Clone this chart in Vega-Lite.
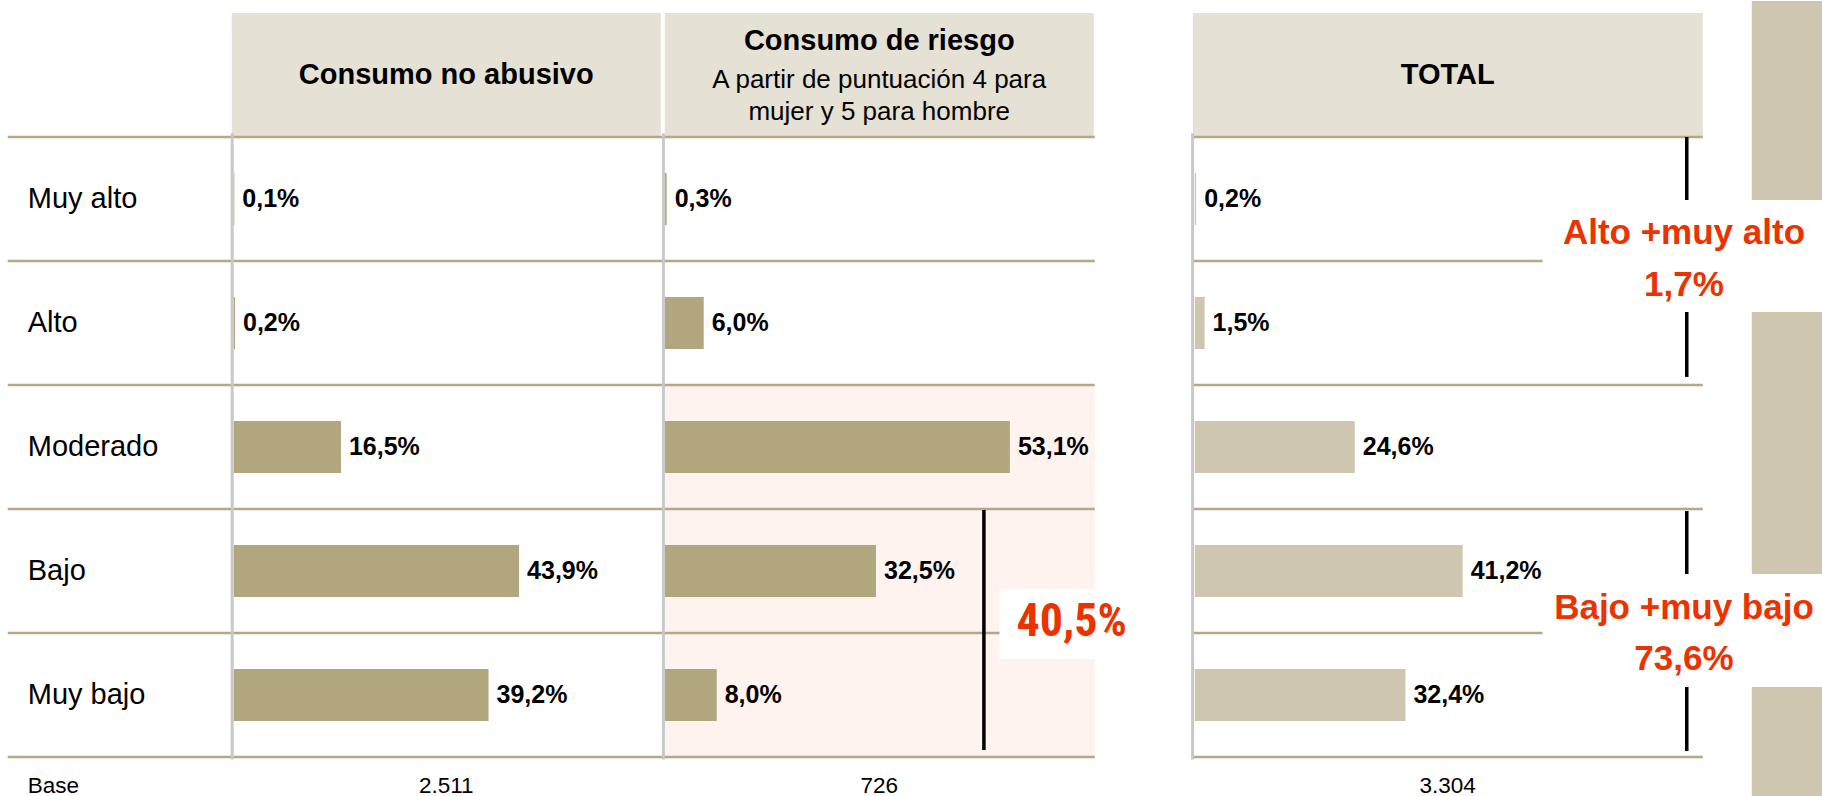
{
"$schema": "https://vega.github.io/schema/vega-lite/v6.json",
"padding": {"left": 5.75, "right": 0, "top": 0, "bottom": 0},
"spacing": 0,
"bounds": "flush",
"config": {
  "view": {"stroke": null},
  "font": "Liberation Sans",
  "text": {"font": "Liberation Sans", "color": "#000000"},
  "locale": {"number": {"decimal": ",", "thousands": ".", "grouping": [3], "currency": ["", " €"]}}
},
"datasets": {
  "datos": [
    {"grupo": "Consumo no abusivo", "nivel": "Muy alto", "pct": 0.001},
    {"grupo": "Consumo no abusivo", "nivel": "Alto", "pct": 0.002},
    {"grupo": "Consumo no abusivo", "nivel": "Moderado", "pct": 0.165},
    {"grupo": "Consumo no abusivo", "nivel": "Bajo", "pct": 0.439},
    {"grupo": "Consumo no abusivo", "nivel": "Muy bajo", "pct": 0.392},
    {"grupo": "Consumo de riesgo", "nivel": "Muy alto", "pct": 0.003},
    {"grupo": "Consumo de riesgo", "nivel": "Alto", "pct": 0.060},
    {"grupo": "Consumo de riesgo", "nivel": "Moderado", "pct": 0.531},
    {"grupo": "Consumo de riesgo", "nivel": "Bajo", "pct": 0.325},
    {"grupo": "Consumo de riesgo", "nivel": "Muy bajo", "pct": 0.080},
    {"grupo": "TOTAL", "nivel": "Muy alto", "pct": 0.002},
    {"grupo": "TOTAL", "nivel": "Alto", "pct": 0.015},
    {"grupo": "TOTAL", "nivel": "Moderado", "pct": 0.246},
    {"grupo": "TOTAL", "nivel": "Bajo", "pct": 0.412},
    {"grupo": "TOTAL", "nivel": "Muy bajo", "pct": 0.324}
  ],
  "encabezados": [
    {"grupo": "Consumo no abusivo", "titulo": "Consumo no abusivo", "sub": "", "base": 2511},
    {"grupo": "Consumo de riesgo", "titulo": "Consumo de riesgo", "sub": ["A partir de puntuación 4 para", "mujer y 5 para hombre"], "base": 726},
    {"grupo": "TOTAL", "titulo": "TOTAL", "sub": "", "base": 3304}
  ],
  "resumen": [
    {"grupo": "Consumo de riesgo", "etiqueta": "Bajo +muy bajo", "pct": 0.405},
    {"grupo": "TOTAL", "etiqueta": "Alto +muy alto", "pct": 0.017},
    {"grupo": "TOTAL", "etiqueta": "Bajo +muy bajo", "pct": 0.736}
  ]
},
"hconcat": [
  {
    "width": 224, "height": 744,
    "layer": [
      {"data": {"name": "datos"}, "transform": [{"filter": "datum.grupo == 'TOTAL'"}],
       "mark": {"type": "rule", "color": "#B5A886", "strokeWidth": 2.5},
       "encoding": {
         "y": {"field": "nivel", "type": "nominal", "bandPosition": 1, "scale": {"type": "band", "domain": ["header", "Muy alto", "Alto", "Moderado", "Bajo", "Muy bajo"], "paddingInner": 0, "paddingOuter": 0}, "axis": null},
         "x": {"datum": 0, "type": "quantitative", "scale": {"domain": [0, 1], "nice": false, "zero": false}, "axis": null},
         "x2": {"datum": 1}}},
      {"data": {"name": "datos"}, "transform": [{"filter": "datum.grupo == 'TOTAL' && datum.nivel == 'Muy alto'"}],
       "mark": {"type": "rule", "color": "#B5A886", "strokeWidth": 2.5},
       "encoding": {
         "y": {"field": "nivel", "type": "nominal", "bandPosition": 0, "scale": {"type": "band", "domain": ["header", "Muy alto", "Alto", "Moderado", "Bajo", "Muy bajo"], "paddingInner": 0, "paddingOuter": 0}, "axis": null},
         "x": {"datum": 0, "type": "quantitative", "scale": {"domain": [0, 1], "nice": false, "zero": false}, "axis": null},
         "x2": {"datum": 1}}},
      {"data": {"name": "datos"}, "transform": [{"filter": "datum.grupo == 'TOTAL'"}],
       "mark": {"type": "text", "align": "left", "baseline": "middle", "fontSize": 29},
       "encoding": {
         "y": {"field": "nivel", "type": "nominal", "scale": {"type": "band", "domain": ["header", "Muy alto", "Alto", "Moderado", "Bajo", "Muy bajo"], "paddingInner": 0, "paddingOuter": 0}, "axis": null},
         "x": {"datum": 0.0893, "type": "quantitative", "scale": {"domain": [0, 1], "nice": false, "zero": false}, "axis": null},
         "text": {"field": "nivel"}}},
      {"data": {"values": [{"rotulo": "Base"}]},
       "mark": {"type": "text", "align": "left", "baseline": "middle", "fontSize": 22.5, "dy": 28.5},
       "encoding": {
         "y": {"datum": "Muy bajo", "bandPosition": 1, "type": "nominal", "scale": {"type": "band", "domain": ["header", "Muy alto", "Alto", "Moderado", "Bajo", "Muy bajo"], "paddingInner": 0, "paddingOuter": 0}, "axis": null},
         "x": {"datum": 0.0893, "type": "quantitative", "scale": {"domain": [0, 1], "nice": false, "zero": false}, "axis": null},
         "text": {"field": "rotulo"}}}
    ]
  },
  {
    "width": 431, "height": 744,
    "layer": [
      {"data": {"name": "encabezados"}, "transform": [{"filter": "datum.grupo == 'Consumo no abusivo'"}],
       "mark": {"type": "bar", "color": "#E5E1D5"},
       "encoding": {
         "y": {"datum": "header", "type": "nominal", "scale": {"type": "band", "domain": ["header", "Muy alto", "Alto", "Moderado", "Bajo", "Muy bajo"], "paddingInner": 0, "paddingOuter": 0}, "axis": null},
         "x": {"datum": -0.003, "type": "quantitative", "scale": {"domain": [-0.003, 0.66], "nice": false, "zero": false}, "axis": null},
         "x2": {"datum": 0.657}}},
      {"data": {"name": "datos"}, "transform": [{"filter": "datum.grupo == 'Consumo no abusivo'"}],
       "mark": {"type": "rule", "color": "#B5A886", "strokeWidth": 2.5},
       "encoding": {
         "y": {"field": "nivel", "type": "nominal", "bandPosition": 1, "scale": {"type": "band", "domain": ["header", "Muy alto", "Alto", "Moderado", "Bajo", "Muy bajo"], "paddingInner": 0, "paddingOuter": 0}, "axis": null},
         "x": {"datum": -0.003, "type": "quantitative", "scale": {"domain": [-0.003, 0.66], "nice": false, "zero": false}, "axis": null},
         "x2": {"datum": 0.66}}},
      {"data": {"name": "datos"}, "transform": [{"filter": "datum.grupo == 'Consumo no abusivo' && datum.nivel == 'Muy alto'"}],
       "mark": {"type": "rule", "color": "#B5A886", "strokeWidth": 2.5},
       "encoding": {
         "y": {"field": "nivel", "type": "nominal", "bandPosition": 0, "scale": {"type": "band", "domain": ["header", "Muy alto", "Alto", "Moderado", "Bajo", "Muy bajo"], "paddingInner": 0, "paddingOuter": 0}, "axis": null},
         "x": {"datum": -0.003, "type": "quantitative", "scale": {"domain": [-0.003, 0.66], "nice": false, "zero": false}, "axis": null},
         "x2": {"datum": 0.66}}},
      {"data": {"name": "datos"}, "transform": [{"filter": "datum.grupo == 'Consumo no abusivo'"}],
       "mark": {"type": "bar", "color": "#B2A67E", "height": {"band": 0.42}},
       "encoding": {
         "y": {"field": "nivel", "type": "nominal", "scale": {"type": "band", "domain": ["header", "Muy alto", "Alto", "Moderado", "Bajo", "Muy bajo"], "paddingInner": 0, "paddingOuter": 0}, "axis": null},
         "x": {"field": "pct", "type": "quantitative", "scale": {"domain": [-0.003, 0.66], "nice": false, "zero": false}, "axis": null}}},
      {"data": {"name": "encabezados"}, "transform": [{"filter": "datum.grupo == 'Consumo no abusivo'"}],
       "mark": {"type": "rule", "color": "#C8C8C8", "strokeWidth": 3},
       "encoding": {
         "x": {"datum": -0.0023, "type": "quantitative", "scale": {"domain": [-0.003, 0.66], "nice": false, "zero": false}, "axis": null},
         "y": {"datum": "Muy alto", "bandPosition": -0.03, "type": "nominal", "scale": {"type": "band", "domain": ["header", "Muy alto", "Alto", "Moderado", "Bajo", "Muy bajo"], "paddingInner": 0, "paddingOuter": 0}, "axis": null},
         "y2": {"datum": "Muy bajo", "bandPosition": 1.02}}},
      {"data": {"name": "datos"}, "transform": [{"filter": "datum.grupo == 'Consumo no abusivo'"}],
       "mark": {"type": "text", "align": "left", "baseline": "middle", "fontSize": 25, "fontWeight": "bold", "dx": 8},
       "encoding": {
         "y": {"field": "nivel", "type": "nominal", "scale": {"type": "band", "domain": ["header", "Muy alto", "Alto", "Moderado", "Bajo", "Muy bajo"], "paddingInner": 0, "paddingOuter": 0}, "axis": null},
         "x": {"field": "pct", "type": "quantitative", "scale": {"domain": [-0.003, 0.66], "nice": false, "zero": false}, "axis": null},
         "text": {"field": "pct", "type": "quantitative", "format": ".1%"}}},
      {"data": {"name": "encabezados"}, "transform": [{"filter": "datum.grupo == 'Consumo no abusivo'"}],
       "mark": {"type": "text", "align": "center", "baseline": "middle", "fontSize": 29, "fontWeight": "bold"},
       "encoding": {
         "y": {"datum": "header", "type": "nominal", "scale": {"type": "band", "domain": ["header", "Muy alto", "Alto", "Moderado", "Bajo", "Muy bajo"], "paddingInner": 0, "paddingOuter": 0}, "axis": null},
         "x": {"datum": 0.327, "type": "quantitative", "scale": {"domain": [-0.003, 0.66], "nice": false, "zero": false}, "axis": null},
         "text": {"field": "titulo"}}},
      {"data": {"name": "encabezados"}, "transform": [{"filter": "datum.grupo == 'Consumo no abusivo'"}],
       "mark": {"type": "text", "align": "center", "baseline": "middle", "fontSize": 22.5, "dy": 28.5},
       "encoding": {
         "y": {"datum": "Muy bajo", "bandPosition": 1, "type": "nominal", "scale": {"type": "band", "domain": ["header", "Muy alto", "Alto", "Moderado", "Bajo", "Muy bajo"], "paddingInner": 0, "paddingOuter": 0}, "axis": null},
         "x": {"datum": 0.327, "type": "quantitative", "scale": {"domain": [-0.003, 0.66], "nice": false, "zero": false}, "axis": null},
         "text": {"field": "base", "type": "quantitative", "format": ",d"}}}
    ]
  },
  {
    "width": 432, "height": 744,
    "layer": [
      {"data": {"name": "encabezados"}, "transform": [{"filter": "datum.grupo == 'Consumo de riesgo'"}],
       "mark": {"type": "rect", "color": "#FFF3F0"},
       "encoding": {
         "y": {"datum": "Moderado", "bandPosition": 0, "type": "nominal", "scale": {"type": "band", "domain": ["header", "Muy alto", "Alto", "Moderado", "Bajo", "Muy bajo"], "paddingInner": 0, "paddingOuter": 0}, "axis": null},
         "y2": {"datum": "Muy bajo", "bandPosition": 1},
         "x": {"datum": 0, "type": "quantitative", "scale": {"domain": [-0.003, 0.6615], "nice": false, "zero": false}, "axis": null},
         "x2": {"datum": 0.6615}}},
      {"data": {"name": "encabezados"}, "transform": [{"filter": "datum.grupo == 'Consumo de riesgo'"}],
       "mark": {"type": "bar", "color": "#E5E1D5"},
       "encoding": {
         "y": {"datum": "header", "type": "nominal", "scale": {"type": "band", "domain": ["header", "Muy alto", "Alto", "Moderado", "Bajo", "Muy bajo"], "paddingInner": 0, "paddingOuter": 0}, "axis": null},
         "x": {"datum": 0, "type": "quantitative", "scale": {"domain": [-0.003, 0.6615], "nice": false, "zero": false}, "axis": null},
         "x2": {"datum": 0.66}}},
      {"data": {"name": "datos"}, "transform": [{"filter": "datum.grupo == 'Consumo de riesgo'"}],
       "mark": {"type": "rule", "color": "#B5A886", "strokeWidth": 2.5},
       "encoding": {
         "y": {"field": "nivel", "type": "nominal", "bandPosition": 1, "scale": {"type": "band", "domain": ["header", "Muy alto", "Alto", "Moderado", "Bajo", "Muy bajo"], "paddingInner": 0, "paddingOuter": 0}, "axis": null},
         "x": {"datum": -0.003, "type": "quantitative", "scale": {"domain": [-0.003, 0.6615], "nice": false, "zero": false}, "axis": null},
         "x2": {"datum": 0.6615}}},
      {"data": {"name": "datos"}, "transform": [{"filter": "datum.grupo == 'Consumo de riesgo' && datum.nivel == 'Muy alto'"}],
       "mark": {"type": "rule", "color": "#B5A886", "strokeWidth": 2.5},
       "encoding": {
         "y": {"field": "nivel", "type": "nominal", "bandPosition": 0, "scale": {"type": "band", "domain": ["header", "Muy alto", "Alto", "Moderado", "Bajo", "Muy bajo"], "paddingInner": 0, "paddingOuter": 0}, "axis": null},
         "x": {"datum": -0.003, "type": "quantitative", "scale": {"domain": [-0.003, 0.6615], "nice": false, "zero": false}, "axis": null},
         "x2": {"datum": 0.6615}}},
      {"data": {"name": "datos"}, "transform": [{"filter": "datum.grupo == 'Consumo de riesgo'"}],
       "mark": {"type": "bar", "color": "#B2A67E", "height": {"band": 0.42}},
       "encoding": {
         "y": {"field": "nivel", "type": "nominal", "scale": {"type": "band", "domain": ["header", "Muy alto", "Alto", "Moderado", "Bajo", "Muy bajo"], "paddingInner": 0, "paddingOuter": 0}, "axis": null},
         "x": {"field": "pct", "type": "quantitative", "scale": {"domain": [-0.003, 0.6615], "nice": false, "zero": false}, "axis": null}}},
      {"data": {"name": "encabezados"}, "transform": [{"filter": "datum.grupo == 'Consumo de riesgo'"}],
       "mark": {"type": "rule", "color": "#C8C8C8", "strokeWidth": 3},
       "encoding": {
         "x": {"datum": -0.002, "type": "quantitative", "scale": {"domain": [-0.003, 0.6615], "nice": false, "zero": false}, "axis": null},
         "y": {"datum": "Muy alto", "bandPosition": -0.03, "type": "nominal", "scale": {"type": "band", "domain": ["header", "Muy alto", "Alto", "Moderado", "Bajo", "Muy bajo"], "paddingInner": 0, "paddingOuter": 0}, "axis": null},
         "y2": {"datum": "Muy bajo", "bandPosition": 1.02}}},
      {"data": {"name": "resumen"}, "transform": [{"filter": "datum.grupo == 'Consumo de riesgo'"}],
       "mark": {"type": "rule", "color": "#000000", "strokeWidth": 3.5},
       "encoding": {
         "x": {"datum": 0.491, "type": "quantitative", "scale": {"domain": [-0.003, 0.6615], "nice": false, "zero": false}, "axis": null},
         "y": {"datum": "Bajo", "bandPosition": 0.008, "type": "nominal", "scale": {"type": "band", "domain": ["header", "Muy alto", "Alto", "Moderado", "Bajo", "Muy bajo"], "paddingInner": 0, "paddingOuter": 0}, "axis": null},
         "y2": {"datum": "Muy bajo", "bandPosition": 0.944}}},
      {"data": {"name": "resumen"}, "transform": [{"filter": "datum.grupo == 'Consumo de riesgo'"}],
       "mark": {"type": "rect", "color": "#FFFFFF"},
       "encoding": {
         "x": {"datum": 0.515, "type": "quantitative", "scale": {"domain": [-0.003, 0.6615], "nice": false, "zero": false}, "axis": null},
         "x2": {"datum": 0.6615},
         "y": {"datum": "Bajo", "bandPosition": 0.645, "type": "nominal", "scale": {"type": "band", "domain": ["header", "Muy alto", "Alto", "Moderado", "Bajo", "Muy bajo"], "paddingInner": 0, "paddingOuter": 0}, "axis": null},
         "y2": {"datum": "Muy bajo", "bandPosition": 0.21}}},
      {"data": {"name": "datos"}, "transform": [{"filter": "datum.grupo == 'Consumo de riesgo'"}],
       "mark": {"type": "text", "align": "left", "baseline": "middle", "fontSize": 25, "fontWeight": "bold", "dx": 8},
       "encoding": {
         "y": {"field": "nivel", "type": "nominal", "scale": {"type": "band", "domain": ["header", "Muy alto", "Alto", "Moderado", "Bajo", "Muy bajo"], "paddingInner": 0, "paddingOuter": 0}, "axis": null},
         "x": {"field": "pct", "type": "quantitative", "scale": {"domain": [-0.003, 0.6615], "nice": false, "zero": false}, "axis": null},
         "text": {"field": "pct", "type": "quantitative", "format": ".1%"}}},
      {"data": {"name": "encabezados"}, "transform": [{"filter": "datum.grupo == 'Consumo de riesgo'"}],
       "mark": {"type": "text", "align": "center", "baseline": "middle", "fontSize": 29, "fontWeight": "bold", "dy": -34.5},
       "encoding": {
         "y": {"datum": "header", "type": "nominal", "scale": {"type": "band", "domain": ["header", "Muy alto", "Alto", "Moderado", "Bajo", "Muy bajo"], "paddingInner": 0, "paddingOuter": 0}, "axis": null},
         "x": {"datum": 0.330, "type": "quantitative", "scale": {"domain": [-0.003, 0.6615], "nice": false, "zero": false}, "axis": null},
         "text": {"field": "titulo"}}},
      {"data": {"name": "encabezados"}, "transform": [{"filter": "datum.grupo == 'Consumo de riesgo'"}],
       "mark": {"type": "text", "align": "center", "baseline": "middle", "fontSize": 26, "lineHeight": 32, "dy": 4.5},
       "encoding": {
         "y": {"datum": "header", "type": "nominal", "scale": {"type": "band", "domain": ["header", "Muy alto", "Alto", "Moderado", "Bajo", "Muy bajo"], "paddingInner": 0, "paddingOuter": 0}, "axis": null},
         "x": {"datum": 0.330, "type": "quantitative", "scale": {"domain": [-0.003, 0.6615], "nice": false, "zero": false}, "axis": null},
         "text": {"field": "sub"}}},
      {"data": {"name": "encabezados"}, "transform": [{"filter": "datum.grupo == 'Consumo de riesgo'"}],
       "mark": {"type": "text", "align": "center", "baseline": "middle", "fontSize": 22.5, "dy": 28.5},
       "encoding": {
         "y": {"datum": "Muy bajo", "bandPosition": 1, "type": "nominal", "scale": {"type": "band", "domain": ["header", "Muy alto", "Alto", "Moderado", "Bajo", "Muy bajo"], "paddingInner": 0, "paddingOuter": 0}, "axis": null},
         "x": {"datum": 0.330, "type": "quantitative", "scale": {"domain": [-0.003, 0.6615], "nice": false, "zero": false}, "axis": null},
         "text": {"field": "base", "type": "quantitative", "format": ",d"}}},
      {"data": {"name": "resumen"}, "transform": [{"filter": "datum.grupo == 'Consumo de riesgo'"}],
       "mark": {"type": "text", "align": "center", "baseline": "middle", "fontSize": 46, "fontWeight": "bold", "font": "Roboto Condensed, DejaVu Sans Condensed, sans-serif", "color": "#EA3300"},
       "encoding": {
         "y": {"datum": "Bajo", "bandPosition": 0.915, "type": "nominal", "scale": {"type": "band", "domain": ["header", "Muy alto", "Alto", "Moderado", "Bajo", "Muy bajo"], "paddingInner": 0, "paddingOuter": 0}, "axis": null},
         "x": {"datum": 0.626, "type": "quantitative", "scale": {"domain": [-0.003, 0.6615], "nice": false, "zero": false}, "axis": null},
         "text": {"field": "pct", "type": "quantitative", "format": ".1%"}}}
    ]
  },
  {
    "width": 728, "height": 744,
    "layer": [
      {"data": {"name": "encabezados"}, "transform": [{"filter": "datum.grupo == 'TOTAL'"}],
       "mark": {"type": "bar", "color": "#E5E1D5"},
       "encoding": {
         "y": {"datum": "header", "type": "nominal", "scale": {"type": "band", "domain": ["header", "Muy alto", "Alto", "Moderado", "Bajo", "Muy bajo"], "paddingInner": 0, "paddingOuter": 0}, "axis": null},
         "x": {"datum": -0.003, "type": "quantitative", "scale": {"domain": [-0.154, 0.966], "nice": false, "zero": false}, "axis": null},
         "x2": {"datum": 0.7814}}},
      {"data": {"name": "datos"}, "transform": [{"filter": "datum.grupo == 'TOTAL' && datum.nivel != 'Muy alto' && datum.nivel != 'Bajo'"}],
       "mark": {"type": "rule", "color": "#B5A886", "strokeWidth": 2.5},
       "encoding": {
         "y": {"field": "nivel", "type": "nominal", "bandPosition": 1, "scale": {"type": "band", "domain": ["header", "Muy alto", "Alto", "Moderado", "Bajo", "Muy bajo"], "paddingInner": 0, "paddingOuter": 0}, "axis": null},
         "x": {"datum": -0.003, "type": "quantitative", "scale": {"domain": [-0.154, 0.966], "nice": false, "zero": false}, "axis": null},
         "x2": {"datum": 0.7814}}},
      {"data": {"name": "datos"}, "transform": [{"filter": "datum.grupo == 'TOTAL' && (datum.nivel == 'Muy alto' || datum.nivel == 'Bajo')"}],
       "mark": {"type": "rule", "color": "#B5A886", "strokeWidth": 2.5},
       "encoding": {
         "y": {"field": "nivel", "type": "nominal", "bandPosition": 1, "scale": {"type": "band", "domain": ["header", "Muy alto", "Alto", "Moderado", "Bajo", "Muy bajo"], "paddingInner": 0, "paddingOuter": 0}, "axis": null},
         "x": {"datum": -0.003, "type": "quantitative", "scale": {"domain": [-0.154, 0.966], "nice": false, "zero": false}, "axis": null},
         "x2": {"datum": 0.5352}}},
      {"data": {"name": "datos"}, "transform": [{"filter": "datum.grupo == 'TOTAL' && datum.nivel == 'Muy alto'"}],
       "mark": {"type": "rule", "color": "#B5A886", "strokeWidth": 2.5},
       "encoding": {
         "y": {"field": "nivel", "type": "nominal", "bandPosition": 0, "scale": {"type": "band", "domain": ["header", "Muy alto", "Alto", "Moderado", "Bajo", "Muy bajo"], "paddingInner": 0, "paddingOuter": 0}, "axis": null},
         "x": {"datum": -0.003, "type": "quantitative", "scale": {"domain": [-0.154, 0.966], "nice": false, "zero": false}, "axis": null},
         "x2": {"datum": 0.7814}}},
      {"data": {"name": "datos"}, "transform": [{"filter": "datum.grupo == 'TOTAL'"}],
       "mark": {"type": "bar", "color": "#CEC6AE", "height": {"band": 0.42}},
       "encoding": {
         "y": {"field": "nivel", "type": "nominal", "scale": {"type": "band", "domain": ["header", "Muy alto", "Alto", "Moderado", "Bajo", "Muy bajo"], "paddingInner": 0, "paddingOuter": 0}, "axis": null},
         "x": {"field": "pct", "type": "quantitative", "scale": {"domain": [-0.154, 0.966], "nice": false, "zero": false}, "axis": null}}},
      {"data": {"name": "encabezados"}, "transform": [{"filter": "datum.grupo == 'TOTAL'"}],
       "mark": {"type": "rule", "color": "#C8C8C8", "strokeWidth": 3},
       "encoding": {
         "x": {"datum": -0.0035, "type": "quantitative", "scale": {"domain": [-0.154, 0.966], "nice": false, "zero": false}, "axis": null},
         "y": {"datum": "Muy alto", "bandPosition": -0.03, "type": "nominal", "scale": {"type": "band", "domain": ["header", "Muy alto", "Alto", "Moderado", "Bajo", "Muy bajo"], "paddingInner": 0, "paddingOuter": 0}, "axis": null},
         "y2": {"datum": "Muy bajo", "bandPosition": 1.02}}},
      {"data": {"name": "encabezados"}, "transform": [{"filter": "datum.grupo == 'TOTAL'"}],
       "mark": {"type": "rect", "color": "#CEC6AE"},
       "encoding": {
         "x": {"datum": 0.8568, "type": "quantitative", "scale": {"domain": [-0.154, 0.966], "nice": false, "zero": false}, "axis": null},
         "x2": {"datum": 0.966},
         "y": {"datum": "header", "bandPosition": -0.097, "type": "nominal", "scale": {"type": "band", "domain": ["header", "Muy alto", "Alto", "Moderado", "Bajo", "Muy bajo"], "paddingInner": 0, "paddingOuter": 0}, "axis": null},
         "y2": {"datum": "Muy bajo", "bandPosition": 1.323}}},
      {"data": {"name": "resumen"}, "transform": [{"filter": "datum.grupo == 'TOTAL' && datum.etiqueta == 'Alto +muy alto'"}],
       "mark": {"type": "rule", "color": "#000000", "strokeWidth": 3.5},
       "encoding": {
         "x": {"datum": 0.7568, "type": "quantitative", "scale": {"domain": [-0.154, 0.966], "nice": false, "zero": false}, "axis": null},
         "y": {"datum": "Muy alto", "bandPosition": 0, "type": "nominal", "scale": {"type": "band", "domain": ["header", "Muy alto", "Alto", "Moderado", "Bajo", "Muy bajo"], "paddingInner": 0, "paddingOuter": 0}, "axis": null},
         "y2": {"datum": "Alto", "bandPosition": 0.935}}},
      {"data": {"name": "resumen"}, "transform": [{"filter": "datum.grupo == 'TOTAL' && datum.etiqueta == 'Bajo +muy bajo'"}],
       "mark": {"type": "rule", "color": "#000000", "strokeWidth": 3.5},
       "encoding": {
         "x": {"datum": 0.7568, "type": "quantitative", "scale": {"domain": [-0.154, 0.966], "nice": false, "zero": false}, "axis": null},
         "y": {"datum": "Bajo", "bandPosition": 0.016, "type": "nominal", "scale": {"type": "band", "domain": ["header", "Muy alto", "Alto", "Moderado", "Bajo", "Muy bajo"], "paddingInner": 0, "paddingOuter": 0}, "axis": null},
         "y2": {"datum": "Muy bajo", "bandPosition": 0.952}}},
      {"data": {"name": "resumen"}, "transform": [{"filter": "datum.grupo == 'TOTAL' && datum.etiqueta == 'Alto +muy alto'"}],
       "mark": {"type": "rect", "color": "#FFFFFF"},
       "encoding": {
         "x": {"datum": 0.5352, "type": "quantitative", "scale": {"domain": [-0.154, 0.966], "nice": false, "zero": false}, "axis": null},
         "x2": {"datum": 0.966},
         "y": {"datum": "Muy alto", "bandPosition": 0.508, "type": "nominal", "scale": {"type": "band", "domain": ["header", "Muy alto", "Alto", "Moderado", "Bajo", "Muy bajo"], "paddingInner": 0, "paddingOuter": 0}, "axis": null},
         "y2": {"datum": "Alto", "bandPosition": 0.411}}},
      {"data": {"name": "resumen"}, "transform": [{"filter": "datum.grupo == 'TOTAL' && datum.etiqueta == 'Bajo +muy bajo'"}],
       "mark": {"type": "rect", "color": "#FFFFFF"},
       "encoding": {
         "x": {"datum": 0.5352, "type": "quantitative", "scale": {"domain": [-0.154, 0.966], "nice": false, "zero": false}, "axis": null},
         "x2": {"datum": 0.966},
         "y": {"datum": "Bajo", "bandPosition": 0.524, "type": "nominal", "scale": {"type": "band", "domain": ["header", "Muy alto", "Alto", "Moderado", "Bajo", "Muy bajo"], "paddingInner": 0, "paddingOuter": 0}, "axis": null},
         "y2": {"datum": "Muy bajo", "bandPosition": 0.435}}},
      {"data": {"name": "datos"}, "transform": [{"filter": "datum.grupo == 'TOTAL'"}],
       "mark": {"type": "text", "align": "left", "baseline": "middle", "fontSize": 25, "fontWeight": "bold", "dx": 8},
       "encoding": {
         "y": {"field": "nivel", "type": "nominal", "scale": {"type": "band", "domain": ["header", "Muy alto", "Alto", "Moderado", "Bajo", "Muy bajo"], "paddingInner": 0, "paddingOuter": 0}, "axis": null},
         "x": {"field": "pct", "type": "quantitative", "scale": {"domain": [-0.154, 0.966], "nice": false, "zero": false}, "axis": null},
         "text": {"field": "pct", "type": "quantitative", "format": ".1%"}}},
      {"data": {"name": "encabezados"}, "transform": [{"filter": "datum.grupo == 'TOTAL'"}],
       "mark": {"type": "text", "align": "center", "baseline": "middle", "fontSize": 29, "fontWeight": "bold"},
       "encoding": {
         "y": {"datum": "header", "type": "nominal", "scale": {"type": "band", "domain": ["header", "Muy alto", "Alto", "Moderado", "Bajo", "Muy bajo"], "paddingInner": 0, "paddingOuter": 0}, "axis": null},
         "x": {"datum": 0.389, "type": "quantitative", "scale": {"domain": [-0.154, 0.966], "nice": false, "zero": false}, "axis": null},
         "text": {"field": "titulo"}}},
      {"data": {"name": "encabezados"}, "transform": [{"filter": "datum.grupo == 'TOTAL'"}],
       "mark": {"type": "text", "align": "center", "baseline": "middle", "fontSize": 22.5, "dy": 28.5},
       "encoding": {
         "y": {"datum": "Muy bajo", "bandPosition": 1, "type": "nominal", "scale": {"type": "band", "domain": ["header", "Muy alto", "Alto", "Moderado", "Bajo", "Muy bajo"], "paddingInner": 0, "paddingOuter": 0}, "axis": null},
         "x": {"datum": 0.389, "type": "quantitative", "scale": {"domain": [-0.154, 0.966], "nice": false, "zero": false}, "axis": null},
         "text": {"field": "base", "type": "quantitative", "format": ",d"}}},
      {"data": {"name": "resumen"}, "transform": [{"filter": "datum.grupo == 'TOTAL' && datum.etiqueta == 'Alto +muy alto'"}],
       "mark": {"type": "text", "align": "center", "baseline": "middle", "fontSize": 35, "fontWeight": "bold", "color": "#EA3300"},
       "encoding": {
         "y": {"datum": "Muy alto", "bandPosition": 0.774, "type": "nominal", "scale": {"type": "band", "domain": ["header", "Muy alto", "Alto", "Moderado", "Bajo", "Muy bajo"], "paddingInner": 0, "paddingOuter": 0}, "axis": null},
         "x": {"datum": 0.7525, "type": "quantitative", "scale": {"domain": [-0.154, 0.966], "nice": false, "zero": false}, "axis": null},
         "text": {"field": "etiqueta"}}},
      {"data": {"name": "resumen"}, "transform": [{"filter": "datum.grupo == 'TOTAL' && datum.etiqueta == 'Alto +muy alto'"}],
       "mark": {"type": "text", "align": "center", "baseline": "middle", "fontSize": 35, "fontWeight": "bold", "color": "#EA3300"},
       "encoding": {
         "y": {"datum": "Alto", "bandPosition": 0.19, "type": "nominal", "scale": {"type": "band", "domain": ["header", "Muy alto", "Alto", "Moderado", "Bajo", "Muy bajo"], "paddingInner": 0, "paddingOuter": 0}, "axis": null},
         "x": {"datum": 0.7525, "type": "quantitative", "scale": {"domain": [-0.154, 0.966], "nice": false, "zero": false}, "axis": null},
         "text": {"field": "pct", "type": "quantitative", "format": ".1%"}}},
      {"data": {"name": "resumen"}, "transform": [{"filter": "datum.grupo == 'TOTAL' && datum.etiqueta == 'Bajo +muy bajo'"}],
       "mark": {"type": "text", "align": "center", "baseline": "middle", "fontSize": 35, "fontWeight": "bold", "color": "#EA3300"},
       "encoding": {
         "y": {"datum": "Bajo", "bandPosition": 0.798, "type": "nominal", "scale": {"type": "band", "domain": ["header", "Muy alto", "Alto", "Moderado", "Bajo", "Muy bajo"], "paddingInner": 0, "paddingOuter": 0}, "axis": null},
         "x": {"datum": 0.7525, "type": "quantitative", "scale": {"domain": [-0.154, 0.966], "nice": false, "zero": false}, "axis": null},
         "text": {"field": "etiqueta"}}},
      {"data": {"name": "resumen"}, "transform": [{"filter": "datum.grupo == 'TOTAL' && datum.etiqueta == 'Bajo +muy bajo'"}],
       "mark": {"type": "text", "align": "center", "baseline": "middle", "fontSize": 35, "fontWeight": "bold", "color": "#EA3300"},
       "encoding": {
         "y": {"datum": "Muy bajo", "bandPosition": 0.21, "type": "nominal", "scale": {"type": "band", "domain": ["header", "Muy alto", "Alto", "Moderado", "Bajo", "Muy bajo"], "paddingInner": 0, "paddingOuter": 0}, "axis": null},
         "x": {"datum": 0.7525, "type": "quantitative", "scale": {"domain": [-0.154, 0.966], "nice": false, "zero": false}, "axis": null},
         "text": {"field": "pct", "type": "quantitative", "format": ".1%"}}}
    ]
  }
]
}
